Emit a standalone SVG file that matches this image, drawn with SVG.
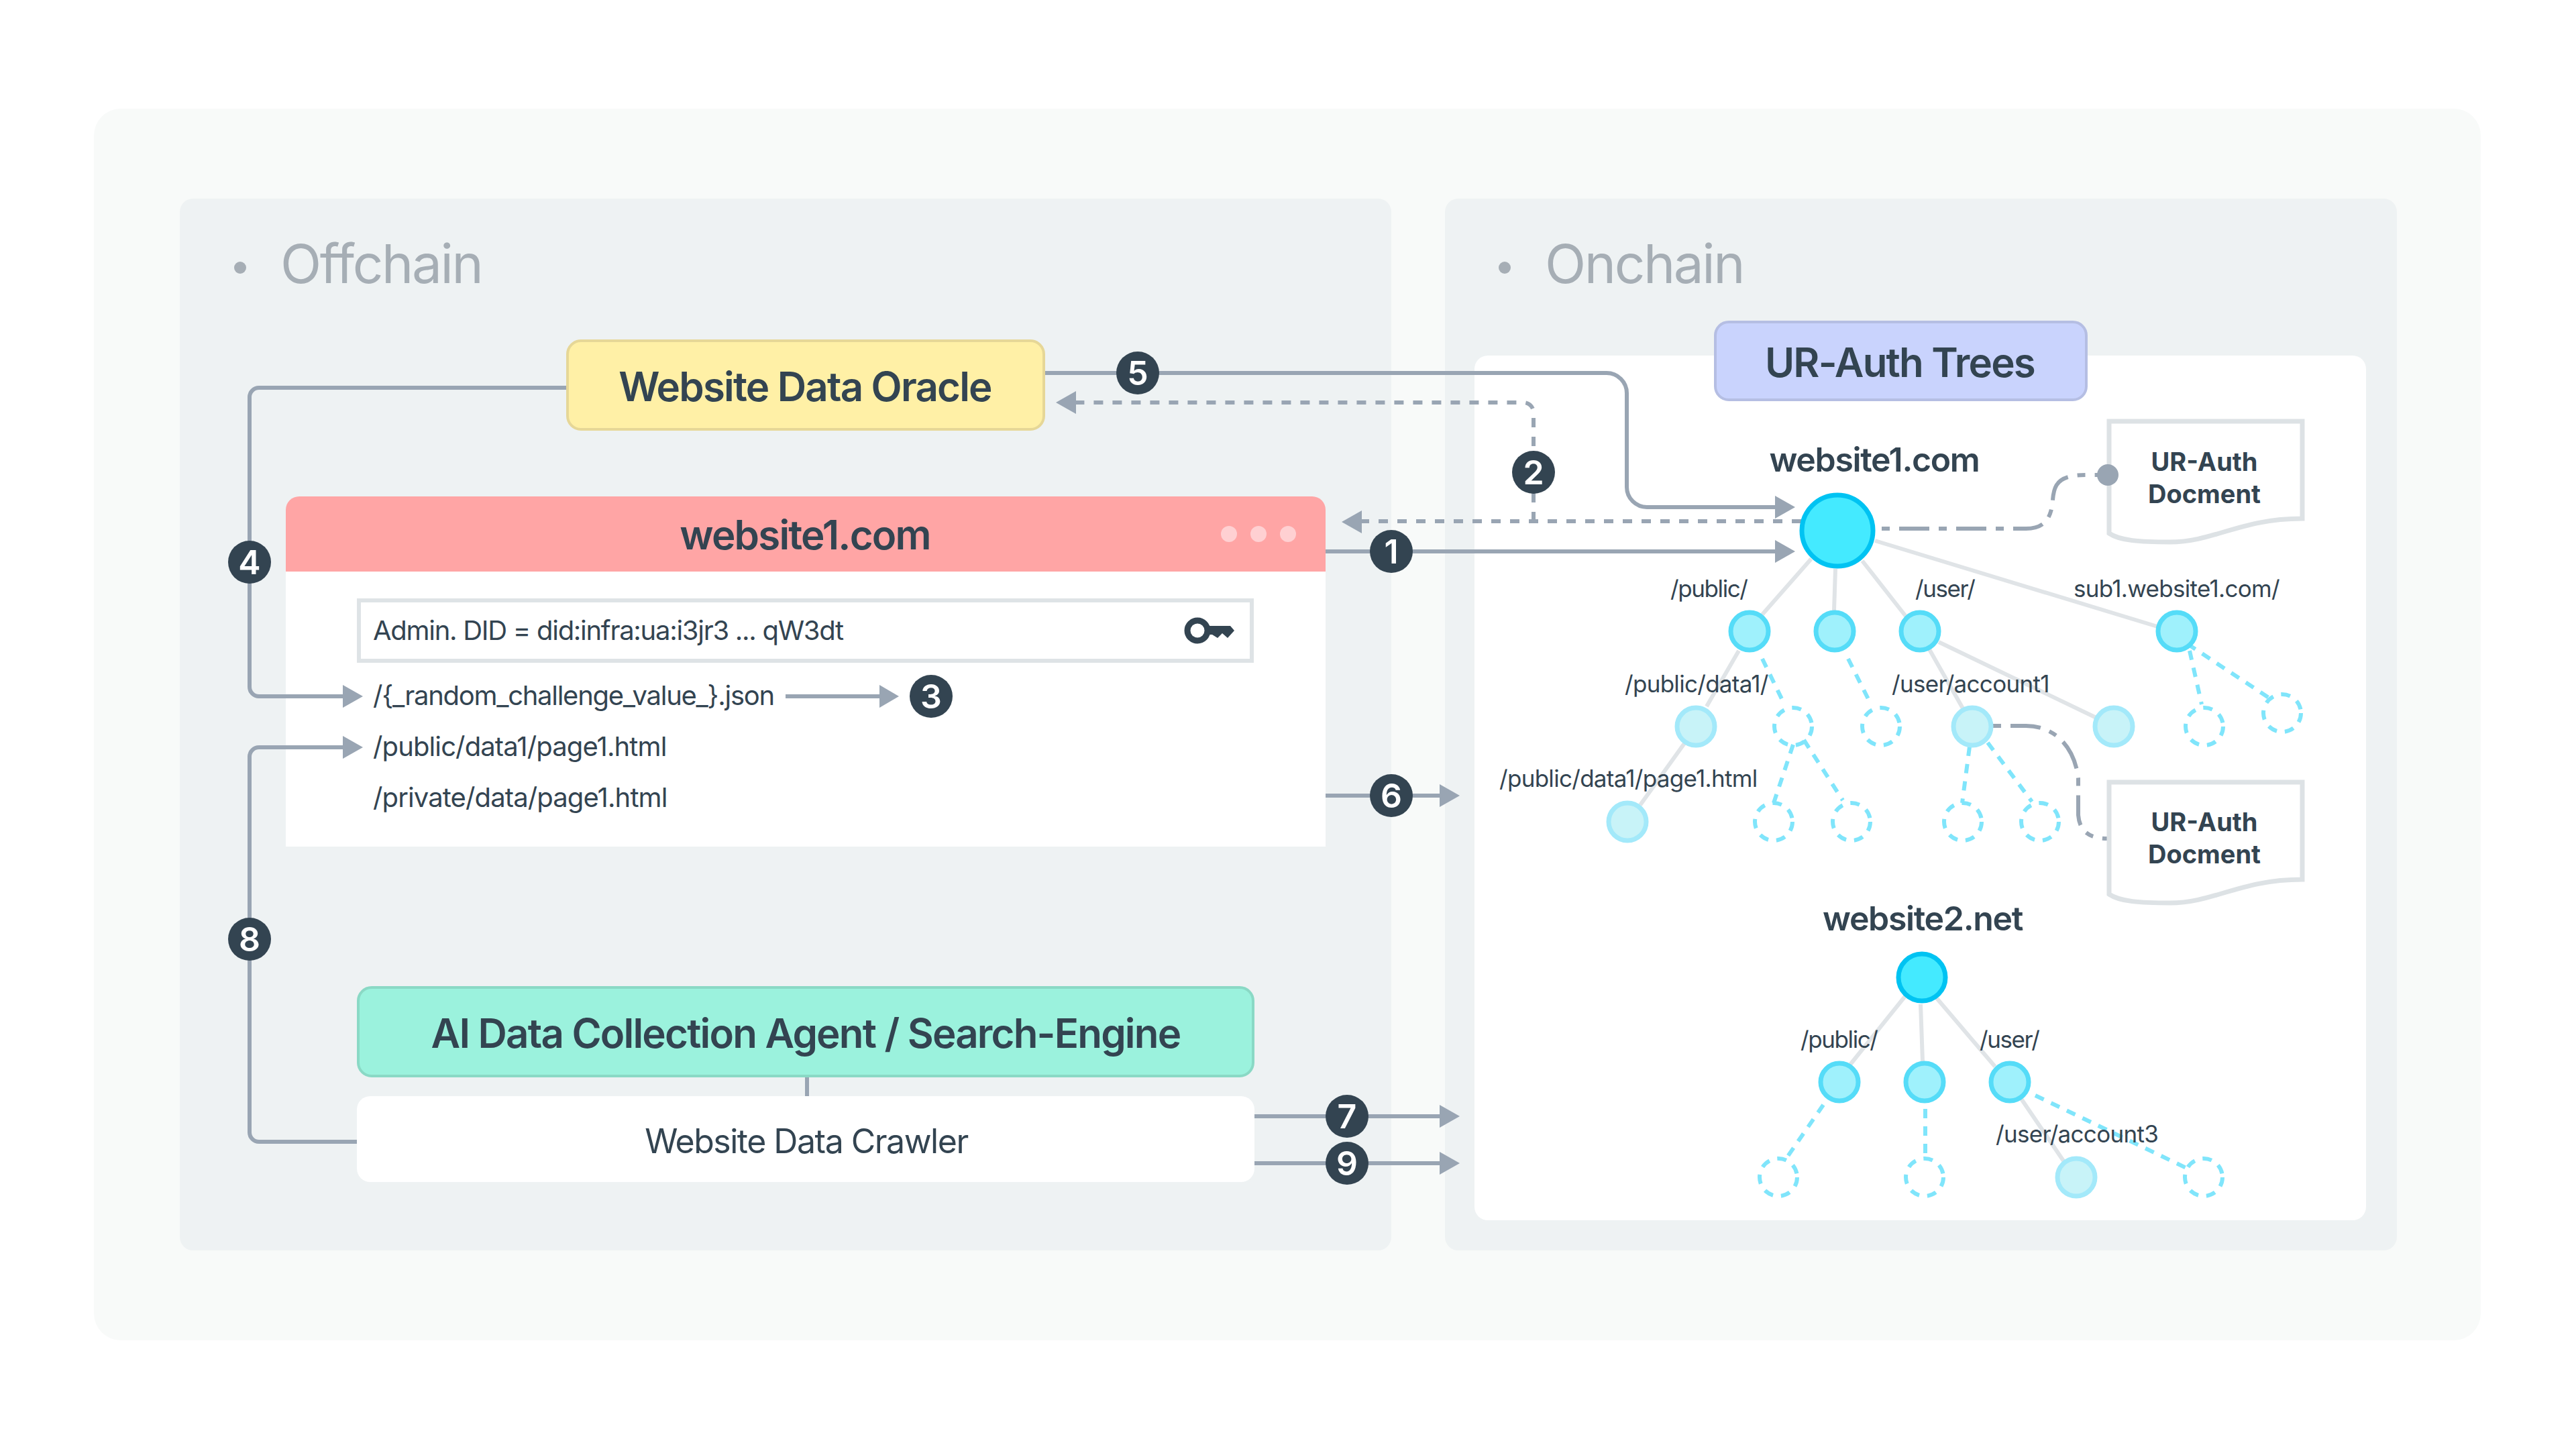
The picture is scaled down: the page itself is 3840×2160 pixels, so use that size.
<svg xmlns="http://www.w3.org/2000/svg" width="3840" height="2160" viewBox="0 0 3840 2160">
<style>
text{font-family:Inter,"Noto Sans","Liberation Sans",sans-serif;fill:#334451}
.c{text-anchor:middle}
.title{font-size:60px;font-weight:600;letter-spacing:-0.03em}
.sect{font-size:80px;fill:#a6aeb5;letter-spacing:-0.03em}
.tree{font-size:50px;font-weight:600;letter-spacing:-0.027em}
.path{font-size:35px;letter-spacing:-0.02em}
.short{letter-spacing:-0.04em}
.row{font-size:40px;letter-spacing:-0.032em}
.rowb{letter-spacing:-0.022em}
.crawl{font-size:50px;letter-spacing:-0.03em}
.doc{font-size:38px;font-weight:700}
.badge circle{fill:#334451}
.badge text{font-size:50px;font-weight:600;fill:#fff;text-anchor:middle}
.ln{fill:none;stroke:#99a5b3;stroke-width:6}
.dash{stroke-dasharray:14 14}
.dd{stroke-dasharray:12 14 45 14}
.ar{fill:#99a5b3}
.e{stroke:#e0e4e7;stroke-width:6;fill:none}
.d{stroke:#80e5fb;stroke-width:6;stroke-dasharray:14 12;fill:none}
.root{fill:#44eaff;stroke:#00c3f2;stroke-width:7}
.n{fill:#9ff1fc;stroke:#55dcf8;stroke-width:7}
.l{fill:#c8f3f8;stroke:#a3e9fa;stroke-width:7}
.o{fill:none;stroke:#80e5fb;stroke-width:6;stroke-dasharray:14 12}
</style>
<rect width="3840" height="2160" fill="#fff"/>
<rect x="140" y="162" width="3558" height="1836" rx="40" fill="#f8faf9"/>
<g id="offchain"><rect x="268" y="296" width="1806" height="1568" rx="20" fill="#eef2f3"/>
<circle cx="358" cy="399" r="9" fill="#a6aeb5"/><text class="sect" x="418" y="422">Offchain</text></g>
<g id="onchain"><rect x="2154" y="296" width="1419" height="1568" rx="20" fill="#eef2f3"/>
<rect x="2198" y="530" width="1329" height="1289" rx="20" fill="#fff"/>
<circle cx="2243" cy="399" r="9" fill="#a6aeb5"/><text class="sect" x="2303" y="422">Onchain</text></g>

<g id="website-window">
<path d="M426 852V760a20 20 0 0 1 20-20H1956a20 20 0 0 1 20 20V852Z" fill="#ffa5a5"/>
<rect x="426" y="852" width="1550" height="410" fill="#fff"/>
<text class="title c" x="1200" y="819">website1.com</text>
<g fill="#ffd0d2"><circle cx="1832" cy="796" r="12"/><circle cx="1876" cy="796" r="12"/><circle cx="1920" cy="796" r="12"/></g>
<rect x="535" y="895" width="1331" height="90" fill="#fff" stroke="#dee3e6" stroke-width="6"/>
<text class="row" x="556" y="954">Admin. DID = did:infra:ua:i3jr3 ... qW3dt</text>
<g id="key"><circle cx="1785" cy="940" r="15" fill="none" stroke="#334451" stroke-width="9"/><path d="M1798 933H1834L1840 940L1830 951L1822 944L1815 951L1807 946H1798Z" fill="#334451"/></g>
<text class="row" x="556" y="1051">/{_random_challenge_value_}.json</text>
<text class="row rowb" x="556" y="1127">/public/data1/page1.html</text>
<text class="row rowb" x="556" y="1203">/private/data/page1.html</text>
</g>

<g id="connectors">
<path class="ln" d="M844 578H386a14 14 0 0 0-14 14V1024a14 14 0 0 0 14 14H515"/>
<path class="ln" d="M532 1702H386a14 14 0 0 1-14-14V1128a14 14 0 0 1 14-14H515"/>
<path class="ar" d="M511 1021L541 1038L511 1055ZM511 1097L541 1114L511 1131Z"/>
<path class="ln" d="M1171 1038H1315"/><path class="ar" d="M1311 1021L1340 1038L1311 1055Z"/>
<path class="ln" d="M1558 556H2395a30 30 0 0 1 30 30V726a30 30 0 0 0 30 30H2650"/>
<path class="ar" d="M2646 739L2676 756L2646 773Z"/>
<path class="ln dash" d="M2286 777V615a15 15 0 0 0-15-15H1604"/>
<path class="ar" d="M1604 583L1574 600L1604 617Z"/>
<path class="ln dash" d="M2685 777H2030"/>
<path class="ar" d="M2030 761L2000 778L2030 795Z"/>
<path class="ln" d="M1976 822H2650"/><path class="ar" d="M2646 805L2676 822L2646 839Z"/>
<path class="ln" d="M1976 1186H2150"/><path class="ar" d="M2146 1169L2176 1186L2146 1203Z"/>
<path class="ln" d="M1870 1664H2150"/><path class="ar" d="M2146 1647L2176 1664L2146 1681Z"/>
<path class="ln" d="M1870 1734H2150"/><path class="ar" d="M2146 1717L2176 1734L2146 1751Z"/>
<path class="ln" d="M1203 1606V1634"/>
<path class="ln dd" d="M2805 788H3020C3050 788 3058 770 3060 745C3062 720 3070 708 3110 708H3142"/>
<path class="ln dd" d="M2971 1082H3020C3060 1082 3092 1110 3098 1160V1215C3100 1240 3115 1250 3142 1250"/>
<g id="tree1-edges">
<path class="e" d="M2700 833L2627 916M2736 848L2734 910M2776 836L2842 920M2795 806L3216 934M2592 970L2544 1053M2511 1108L2445 1200M2876 968L2926 1056M2890 957L3125 1070"/>
<path class="d" d="M2627 982L2660 1050M2755 982L2789 1050M3264 970L3282 1050M3261 960L3382 1040M2673 1110L2644 1197M2689 1103L2747 1193M2936 1113L2925 1197M2963 1107L3029 1195"/>
</g>
<g id="tree2-edges">
<path class="e" d="M2840 1485L2758 1587M2863 1497L2866 1582M2887 1488L2974 1590M3013 1638L3077 1732"/>
<path class="d" d="M2718 1647L2664 1725M2870 1653V1725M3034 1633L3261 1742"/>
</g>
</g>

<g id="oracle"><rect x="846" y="508" width="710" height="132" rx="20" fill="#fff0a6" stroke="#e6d797" stroke-width="4"/><text class="title c" x="1200" y="598">Website Data Oracle</text></g>
<g id="ur-auth-trees"><rect x="2557" y="480" width="553" height="116" rx="20" fill="#c9d3fd" stroke="#b5bee3" stroke-width="4"/><text class="title c" x="2832" y="562">UR-Auth Trees</text></g>
<g id="agent"><rect x="534" y="1472" width="1334" height="132" rx="20" fill="#9bf2dd" stroke="#8ad9c5" stroke-width="4"/><text class="title c" x="1201" y="1562">AI Data Collection Agent / Search-Engine</text></g>
<g id="crawler"><rect x="532" y="1634" width="1338" height="128" rx="20" fill="#fff"/><text class="crawl c" x="1202" y="1719">Website Data Crawler</text></g>

<g id="doc1"><path d="M3144 628H3432V773C3340 773 3300 808 3235 808C3190 808 3160 806 3144 795Z" fill="#fff" stroke="#dde2e5" stroke-width="7"/><text class="doc c" x="3286" y="702">UR-Auth</text><text class="doc c" x="3286" y="750">Docment</text></g>
<g id="doc2"><path d="M3144 1166H3432V1311C3340 1311 3300 1346 3235 1346C3190 1346 3160 1344 3144 1333Z" fill="#fff" stroke="#dde2e5" stroke-width="7"/><text class="doc c" x="3286" y="1239">UR-Auth</text><text class="doc c" x="3286" y="1287">Docment</text></g>
<circle class="ar" cx="3142" cy="708" r="16"/>

<g id="tree1">
<text class="tree c" x="2794" y="703">website1.com</text>
<circle class="root" cx="2739" cy="791" r="53"/>
<circle class="n" cx="2608" cy="941" r="28"/><circle class="n" cx="2735" cy="941" r="28"/><circle class="n" cx="2862" cy="941" r="28"/><circle class="n" cx="3245" cy="941" r="28"/>
<circle class="l" cx="2528" cy="1083" r="28"/><circle class="l" cx="2940" cy="1083" r="28"/><circle class="l" cx="3151" cy="1083" r="28"/><circle class="l" cx="2426" cy="1225" r="28"/>
<circle class="o" cx="2673" cy="1083" r="28"/><circle class="o" cx="2804" cy="1083" r="28"/><circle class="o" cx="3286" cy="1083" r="28"/><circle class="o" cx="3402" cy="1063" r="28"/>
<circle class="o" cx="2644" cy="1225" r="28"/><circle class="o" cx="2760" cy="1225" r="28"/><circle class="o" cx="2926" cy="1225" r="28"/><circle class="o" cx="3041" cy="1225" r="28"/>
<text class="path short" x="2490" y="890">/public/</text><text class="path short" x="2855" y="890">/user/</text><text class="path" x="3091" y="890">sub1.website1.com/</text>
<text class="path" x="2422" y="1032">/public/data1/</text><text class="path" x="2820" y="1032">/user/account1</text><text class="path" x="2235" y="1173">/public/data1/page1.html</text>
</g>
<g id="tree2">
<text class="tree c" x="2866" y="1387">website2.net</text>
<circle class="root" cx="2865" cy="1457" r="35"/>
<circle class="n" cx="2742" cy="1613" r="28"/><circle class="n" cx="2869" cy="1613" r="28"/><circle class="n" cx="2996" cy="1613" r="28"/>
<circle class="o" cx="2651" cy="1755" r="28"/><circle class="o" cx="2869" cy="1755" r="28"/><circle class="l" cx="3095" cy="1755" r="28"/><circle class="o" cx="3285" cy="1755" r="28"/>
<text class="path short" x="2684" y="1562">/public/</text><text class="path short" x="2951" y="1562">/user/</text><text class="path" x="2975" y="1703">/user/account3</text>
</g>

<g class="badge" id="badges">
<g id="b1"><circle cx="2074" cy="822" r="32"/><text x="2074" y="840">1</text></g>
<g id="b2"><circle cx="2286" cy="704" r="32"/><text x="2286" y="722">2</text></g>
<g id="b3"><circle cx="1388" cy="1038" r="32"/><text x="1388" y="1056">3</text></g>
<g id="b4"><circle cx="372" cy="838" r="32"/><text x="372" y="856">4</text></g>
<g id="b5"><circle cx="1696" cy="556" r="32"/><text x="1696" y="574">5</text></g>
<g id="b6"><circle cx="2074" cy="1186" r="32"/><text x="2074" y="1204">6</text></g>
<g id="b7"><circle cx="2008" cy="1664" r="32"/><text x="2008" y="1682">7</text></g>
<g id="b8"><circle cx="372" cy="1400" r="32"/><text x="372" y="1418">8</text></g>
<g id="b9"><circle cx="2008" cy="1734" r="32"/><text x="2008" y="1752">9</text></g>
</g>
</svg>
